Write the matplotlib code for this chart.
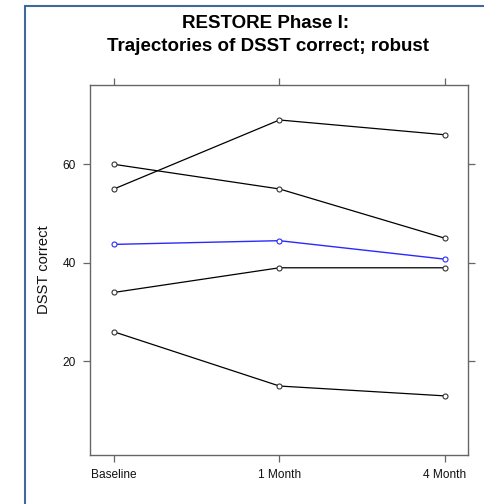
import matplotlib
matplotlib.use("Agg")
import matplotlib.pyplot as plt
from matplotlib.patches import Rectangle

plt.rcParams['font.family'] = ['Liberation Sans', 'DejaVu Sans']

# data
visits = ["Baseline", "1 Month", "4 Month"]
subj_a = [55, 69, 66]
subj_b = [60, 55, 45]
subj_c = [34, 39, 39]
subj_d = [26, 15, 13]
robust_mean = [43.75, 44.5, 40.75]
yticks = [20, 40, 60]

W, H = 484, 504
fig = plt.figure(figsize=(W / 100, H / 100), dpi=100)

# outer frame of the screenshot (open at right / bottom)
fig.patches.append(Rectangle((24.5 / W, -0.1), 1.2, 1 - 6 / H + 0.1,
                             transform=fig.transFigure, fill=False,
                             edgecolor='#3E6A9A', lw=1.5))

ax = fig.add_axes([90 / W, 1 - 455 / H, 378 / W, 370 / H])
x = list(range(len(visits)))

for ys in [subj_a, subj_b, subj_c, subj_d]:
    ax.plot(x, ys, color='black', lw=0.9, marker='o', ms=3.6,
            mfc='white', mec='#333333', mew=0.8)
ax.plot(x, robust_mean, color='#2a2aff', lw=1.0, marker='o', ms=3.6,
        mfc='white', mec='#2a2aff', mew=0.8)

ax.set_xlim(-0.145, 2.14)
ax.set_ylim(1.0, 76.1)
ax.set_xticks(x)
ax.set_xticklabels(visits)
ax.set_yticks(yticks)

for sp in ax.spines.values():
    sp.set_color('#666666')
    sp.set_linewidth(1.0)

ax.tick_params(axis='both', direction='out', length=5, width=0.9,
               color='#666666', labelsize=8.6, labelcolor='#111111',
               top=True, right=True, labeltop=False, labelright=False)
ax.tick_params(axis='x', pad=5)
ax.tick_params(axis='y', pad=5)

ax.set_ylabel("DSST correct", fontsize=10.6, color='#111111')
ax.yaxis.set_label_coords(-0.102, 0.5)

fig.text(266 / W, 1 - 28 / H, "RESTORE Phase I:", ha='center',
         va='baseline', fontsize=13.5, fontweight='bold')
fig.text(268 / W, 1 - 51 / H, "Trajectories of DSST correct; robust",
         ha='center', va='baseline', fontsize=13.5, fontweight='bold')

fig.savefig("out.png", dpi=100)
